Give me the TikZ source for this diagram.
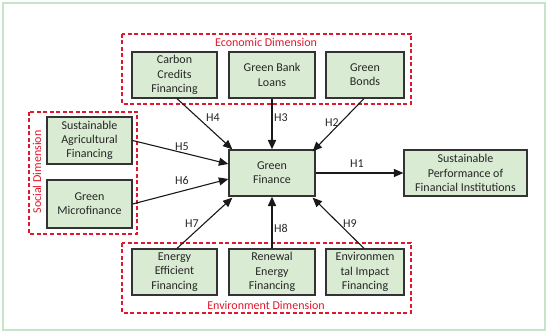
\documentclass[tikz,border=0pt]{standalone}
\usepackage{fontspec}
\setmainfont{Carlito}
\usetikzlibrary{arrows.meta}

\definecolor{boxgreen}{HTML}{DAEBD3}
\definecolor{dimred}{HTML}{E0182D}
\definecolor{framegreen}{HTML}{C8E4C8}

\begin{document}
\begin{tikzpicture}[
    x=1pt, y=-1pt,
    >={Triangle[length=9.5pt, width=8pt]},
    box/.style={draw=black!80, line width=1.2pt, fill=boxgreen, align=center,
        inner sep=0pt, text=black!85, font=\fontsize{12}{14.3}\selectfont},
    dimframe/.style={draw=dimred, line width=1.4pt, dash pattern=on 4pt off 2.5pt},
    dimlabel/.style={text=dimred, font=\fontsize{12}{13}\selectfont, inner sep=0pt},
    link/.style={->, line width=1.1pt, black!90},
    hyp/.style={font=\fontsize{12}{13}\selectfont, text=black!85, inner sep=0pt},
]

%--- Page frame ---
\useasboundingbox (0,0) rectangle (550,334);
\draw[framegreen, line width=1.2pt] (3,3) rectangle (545,330);

%--- Dimension frames (dashed) ---
\draw[dimframe] (122,34) rectangle (411,104);   % economic
\draw[dimframe] (29,112) rectangle (137,234);   % social
\draw[dimframe] (122,243) rectangle (411,313);  % environment

\node[dimlabel] (econ) at (266,42) {Economic Dimension};
\node[dimlabel] (env) at (266,305) {Environment Dimension};
\node[dimlabel, rotate=90] (soc) at (37,172) {Social Dimension};

%--- Economic boxes ---
\node[box, minimum width=85pt, minimum height=46pt] (carbon) at (174.5,75)
    {Carbon\\Credits\\Financing};
\node[box, minimum width=86pt, minimum height=46pt] (bank) at (272,75)
    {Green Bank\\Loans};
\node[box, minimum width=78pt, minimum height=46pt] (bonds) at (365,75)
    {Green\\Bonds};

%--- Social boxes ---
\node[box, minimum width=85pt, minimum height=47pt] (agri) at (89.5,140.5)
    {Sustainable\\Agricultural\\Financing};
\node[box, minimum width=85pt, minimum height=48pt] (micro) at (89.5,204)
    {Green\\Microfinance};

%--- Centre and outcome ---
\node[box, minimum width=86pt, minimum height=46pt] (gf) at (272,173)
    {Green\\Finance};
\node[box, minimum width=123pt, minimum height=46pt] (perf) at (465.5,173)
    {Sustainable\\Performance of\\Financial Institutions};

%--- Environment boxes ---
\node[box, minimum width=85pt, minimum height=46pt] (energy) at (174.5,272)
    {Energy\\Efficient\\Financing};
\node[box, minimum width=86pt, minimum height=46pt] (renew) at (272,272)
    {Renewal\\Energy\\Financing};
\node[box, minimum width=78pt, minimum height=46pt] (impact) at (365,272)
    {Environmen\\tal Impact\\Financing};

%--- Hypothesis arrows ---
\draw[link] ([xshift=2.5pt]carbon.south) -- ([xshift=4pt]gf.north west);
\draw[link, line width=1.8pt] (bank.south) -- (gf.north);
\draw[link] ([xshift=-1pt]bonds.south) -- ([xshift=-3pt, yshift=-2pt]gf.north east);
\draw[link] (agri.east) -- ([yshift=9pt]gf.west);
\draw[link] (micro.east) -- ([yshift=-6pt]gf.west);
\draw[link] ([xshift=2.5pt]energy.north) -- ([xshift=4pt, yshift=-1pt]gf.south west);
\draw[link, line width=1.8pt] (renew.north) -- (gf.south);
\draw[link] ([xshift=-1pt]impact.north) -- ([xshift=-3pt, yshift=-1pt]gf.south east);
\draw[link] (gf.east) -- (perf.west);

%--- Hypothesis labels ---
\node[hyp] (h1) at (357,164) {H1};
\node[hyp] (h2) at (332,123) {H2};
\node[hyp] (h3) at (281,118) {H3};
\node[hyp] (h4) at (213,118) {H4};
\node[hyp] (h5) at (182,147) {H5};
\node[hyp] (h6) at (182,180) {H6};
\node[hyp] (h7) at (192,224) {H7};
\node[hyp] (h8) at (281,228) {H8};
\node[hyp] (h9) at (350,224) {H9};

\end{tikzpicture}
\end{document}
